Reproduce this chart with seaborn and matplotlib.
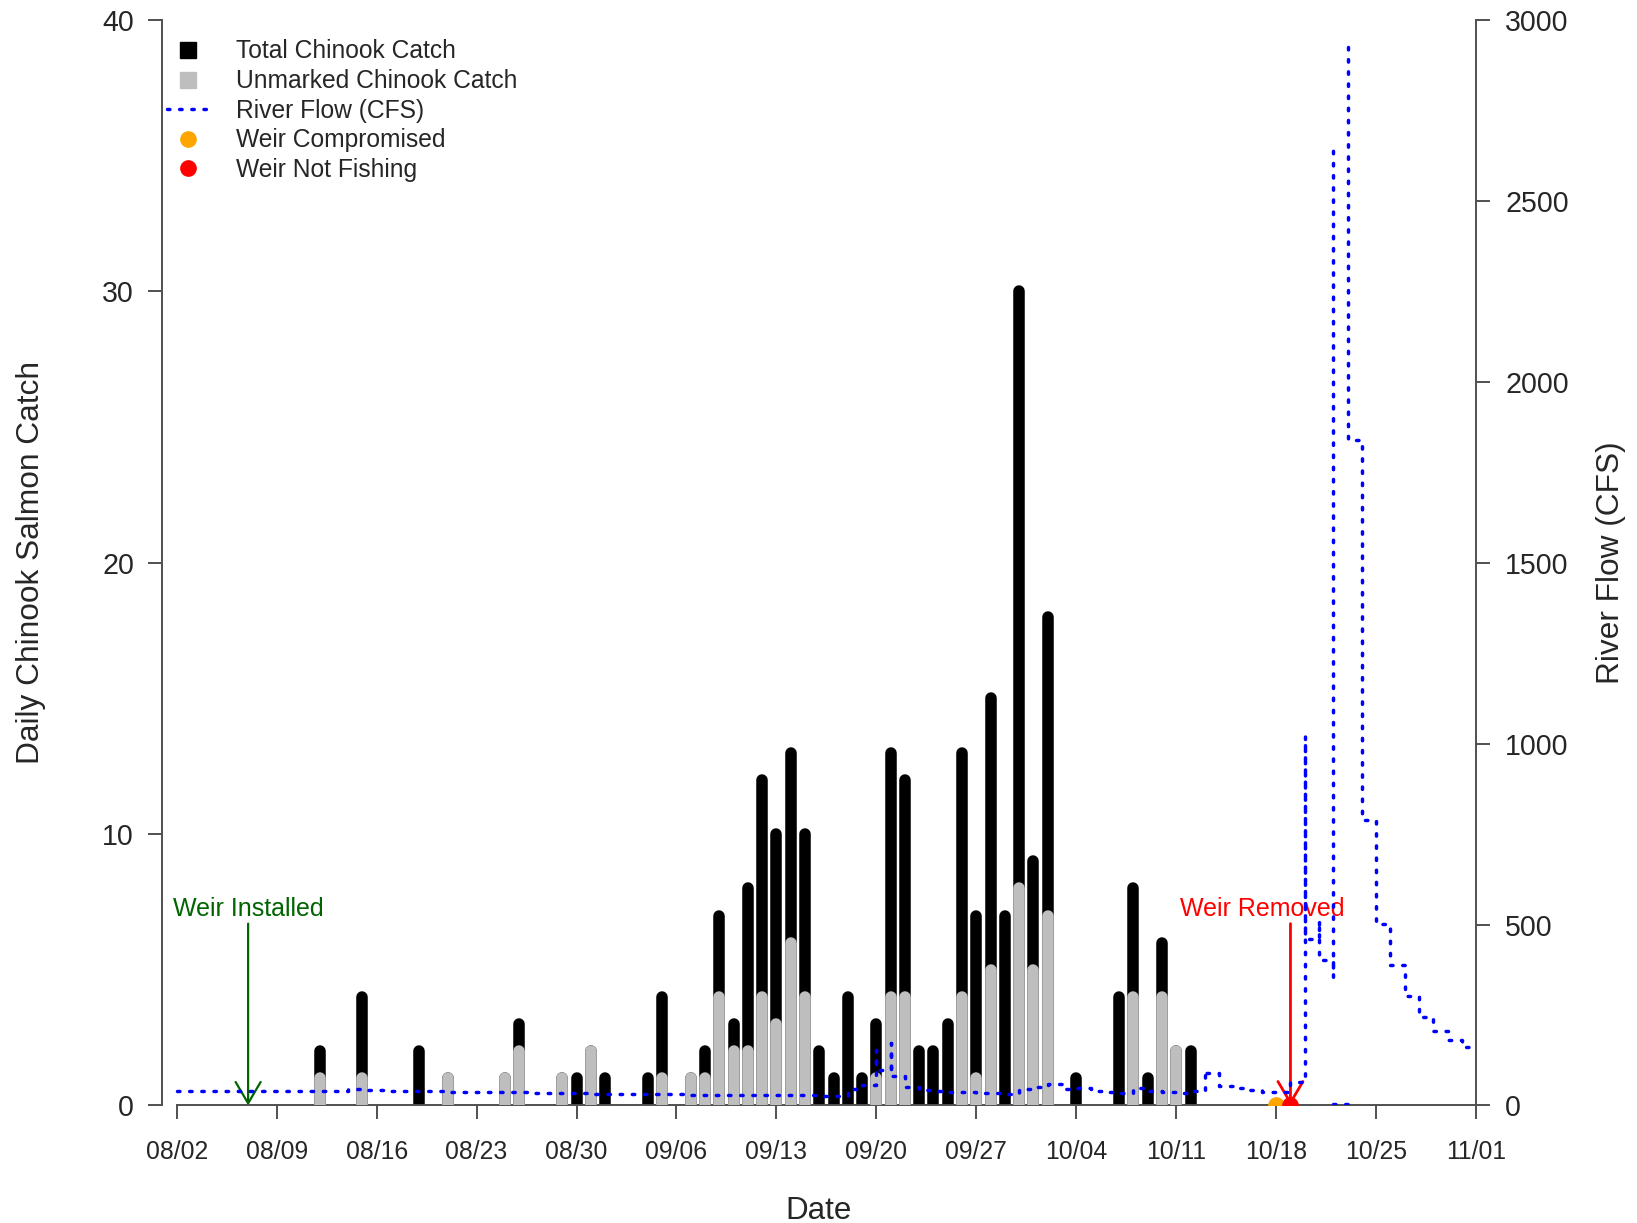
import numpy as np
import pandas as pd
import seaborn as sns
import matplotlib.pyplot as plt
from matplotlib.lines import Line2D

# season start, every x value is days after this date
start = pd.Timestamp('2023-08-02')

tick_labels = ['08/02', '08/09', '08/16', '08/23', '08/30', '09/06', '09/13',
               '09/20', '09/27', '10/04', '10/11', '10/18', '10/25', '11/01']

catch_dates = ['08/12', '08/15', '08/19', '08/21', '08/25', '08/26', '08/29', '08/30',
               '08/31', '09/01', '09/04', '09/05', '09/07', '09/08', '09/09', '09/10',
               '09/11', '09/12', '09/13', '09/14', '09/15', '09/16', '09/17', '09/18',
               '09/19', '09/20', '09/21', '09/22', '09/23', '09/24', '09/25', '09/26',
               '09/27', '09/28', '09/29', '09/30', '10/01', '10/02', '10/04', '10/07',
               '10/08', '10/09', '10/10', '10/11', '10/12']
total_catch = [2, 4, 2, 1, 1, 3, 1, 1,
               2, 1, 1, 4, 1, 2, 7, 3,
               8, 12, 10, 13, 10, 2, 1, 4,
               1, 3, 13, 12, 2, 2, 3, 13,
               7, 15, 7, 30, 9, 18, 1, 4,
               8, 1, 6, 2, 2]
unmarked_catch = [1, 1, 0, 1, 1, 2, 1, 0,
                  2, 0, 0, 1, 1, 1, 4, 2,
                  2, 4, 3, 6, 4, 0, 0, 0,
                  0, 1, 4, 4, 0, 0, 0, 4,
                  1, 5, 0, 8, 5, 7, 0, 0,
                  4, 0, 4, 2, 0]

# river flow, several readings on some days, nan = gap in the record
flow_day = (list(range(0, 49)) + [49, 49, 50, 50] + list(range(51, 72)) + [72, 72]
            + list(range(73, 79)) + [79, 79, 80, 80, 81, 81, np.nan, 81, 82, np.nan, 82, 82]
            + list(range(83, 92)))
flow_cfs = ([40, 40, 41, 40, 40, 40, 40, 40, 40, 40,
             41, 41, 46, 44, 42,
             41, 40, 39, 39, 38, 38,
             37, 37, 36, 36, 35, 35, 34, 34, 33, 33,
             32, 32, 31, 31, 31, 30, 30, 30, 29, 29,
             29, 28, 28, 28, 27, 27,
             45, 57]
            + [153, 98, 172, 81]
            + [50, 43, 40, 38, 37, 35, 34, 33,
               45, 52, 60, 46, 48, 40, 36, 35, 48, 40, 37, 34, 40]
            + [98, 89]
            + [54, 48, 43, 38, 37, 66]
            + [1021, 459, 512, 402, 355, 2660, np.nan, 5, 5, np.nan, 2925, 1840]
            + [790, 502, 388, 302, 244, 206, 182, 162, 162])

installed_date = '08/07'
removed_date = '10/19'
removed_text_date = '10/17'
compromised_dates = ['10/18']
not_fishing_dates = ['10/19']


def day_of(md):
    return (pd.to_datetime('2023/' + md) - start).days


catch = pd.DataFrame({'day': [day_of(d) for d in catch_dates],
                      'total': total_catch, 'unmarked': unmarked_catch})

sns.set_style('ticks')
plt.rcParams['font.family'] = ['Liberation Sans', 'DejaVu Sans']

axis_col = '#505050'
grey = '#BEBEBE'
flow_style = (0, (0.7, 2.8))

fig = plt.figure(figsize=(16.37, 12.23), dpi=100)
ax = fig.add_axes([0.0988, 0.0961, 0.8029, 0.8876])

ax.vlines(catch['day'], 0, catch['total'], colors='black', linewidth=8.3, capstyle='round', zorder=2)
um = catch[catch['unmarked'] > 0]
ax.vlines(um['day'], 0, um['unmarked'], colors=grey, linewidth=8.3, capstyle='round', zorder=3)

ax.plot([day_of(d) for d in compromised_dates], [0] * len(compromised_dates), 'o',
        color='orange', ms=11, zorder=5)
ax.plot([day_of(d) for d in not_fishing_dates], [0] * len(not_fishing_dates), 'o',
        color='red', ms=11, zorder=5)

ax.set_xlim(-1.05, 91)
ax.set_ylim(0, 40)
ax.set_yticks([0, 10, 20, 30, 40])
ax.set_xticks([day_of(t) for t in tick_labels])
ax.set_xticklabels(tick_labels)

# weir notes
d_in = day_of(installed_date)
ax.annotate('', xy=(d_in, 0), xytext=(d_in, 6.7), annotation_clip=False,
            arrowprops=dict(arrowstyle='->,head_length=0.85,head_width=0.5', color='darkgreen',
                            lw=1.6, shrinkA=0, shrinkB=0, mutation_scale=18))
ax.text(d_in, 7.24, 'Weir Installed', color='darkgreen', ha='center', va='center', fontsize=18)
d_out = day_of(removed_date)
ax.annotate('', xy=(d_out, 0), xytext=(d_out, 6.7), annotation_clip=False,
            arrowprops=dict(arrowstyle='->,head_length=0.85,head_width=0.5', color='red',
                            lw=2, shrinkA=0, shrinkB=0, mutation_scale=18), zorder=6)
ax.text(day_of(removed_text_date), 7.24, 'Weir Removed', color='red', ha='center',
        va='center', fontsize=18)

ax2 = ax.twinx()
ax2.plot(flow_day, flow_cfs, drawstyle='steps-post', color='blue', lw=2.5,
         linestyle=flow_style, dash_capstyle='round')
ax2.set_ylim(0, 3000)
ax2.set_yticks(range(0, 3001, 500))

for s in ['top', 'right']:
    ax.spines[s].set_visible(False)
for s in ['top', 'left', 'bottom']:
    ax2.spines[s].set_visible(False)
ax.spines['bottom'].set_bounds(0, 91)
for sp in [ax.spines['left'], ax.spines['bottom'], ax2.spines['right']]:
    sp.set_color(axis_col)
    sp.set_linewidth(1.4)

ax.tick_params(axis='y', length=10, width=1.4, color=axis_col, labelsize=20.6, pad=10)
ax.tick_params(axis='x', length=10, width=1.4, color=axis_col, labelsize=17.8, pad=15)
ax2.tick_params(axis='y', length=10, width=1.4, color=axis_col, labelsize=20.6, pad=11)

ax.set_ylabel('Daily Chinook Salmon Catch', fontsize=22.8)
ax.yaxis.set_label_coords(-0.088, 0.5)
ax.set_xlabel('Date', fontsize=22.5)
ax.xaxis.set_label_coords(0.5, -0.083)
ax2.set_ylabel('River Flow (CFS)', fontsize=22.8)
ax2.yaxis.set_label_coords(1.091, 0.5)

handles = [
    Line2D([], [], marker='s', color='black', linestyle='None', markersize=12),
    Line2D([], [], marker='s', color=grey, linestyle='None', markersize=12),
    Line2D([], [], color='blue', lw=2.5, linestyle=flow_style, dash_capstyle='round'),
    Line2D([], [], marker='o', color='orange', linestyle='None', markersize=11),
    Line2D([], [], marker='o', color='red', linestyle='None', markersize=11),
]
labels = ['Total Chinook Catch', 'Unmarked Chinook Catch', 'River Flow (CFS)',
          'Weir Compromised', 'Weir Not Fishing']
ax2.legend(handles, labels, loc='upper left', bbox_to_anchor=(0.004, 0.982), frameon=False,
           fontsize=17.7, handlelength=1.7, handletextpad=1.1, labelspacing=0.23,
           borderpad=0, borderaxespad=0)

fig.savefig('out.png', dpi=100)
